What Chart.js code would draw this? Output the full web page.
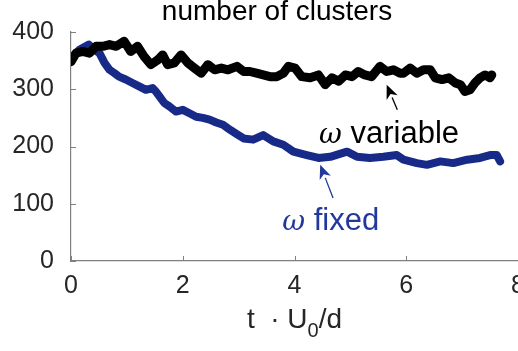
<!DOCTYPE html>
<html><head><meta charset="utf-8">
<script src="https://cdn.jsdelivr.net/npm/chart.js@4/dist/chart.umd.min.js"></script>
<style>html,body{margin:0;padding:0;background:#fff;overflow:hidden}</style>
</head><body>
<canvas id="c" width="518" height="351"></canvas>
<script>
// ---- data ----
const tBlack = [0.00,0.09,0.21,0.33,0.45,0.57,0.69,0.81,0.95,1.07,1.19,1.31,1.43,1.55,1.64,1.73,1.85,1.97,2.09,2.21,2.33,2.45,2.57,2.69,2.81,2.97,3.09,3.20,3.32,3.44,3.56,3.68,3.80,3.89,4.01,4.13,4.28,4.43,4.55,4.67,4.79,4.91,5.03,5.14,5.26,5.38,5.53,5.65,5.77,5.89,5.95,6.07,6.19,6.31,6.43,6.52,6.64,6.76,6.88,6.97,7.05,7.14,7.23,7.32,7.41,7.50,7.53];
const vBlack = [348,363,366,363,375,375,378,375,384,366,375,357,343,351,360,343,346,360,346,337,328,343,334,337,334,340,331,331,328,325,322,322,328,340,337,322,320,325,308,320,314,325,322,331,325,322,340,331,334,328,328,337,328,334,334,320,317,320,311,308,296,299,311,320,325,320,325];
const tBlue = [0.03,0.15,0.32,0.42,0.51,0.60,0.69,0.78,0.86,0.98,1.10,1.22,1.34,1.46,1.52,1.58,1.67,1.76,1.88,2.00,2.12,2.24,2.36,2.48,2.60,2.72,2.85,2.96,3.09,3.26,3.44,3.62,3.80,3.98,4.22,4.43,4.64,4.94,5.12,5.35,5.59,5.83,5.95,6.19,6.37,6.61,6.84,7.09,7.32,7.50,7.62,7.68];
const vBlue = [357,369,378,369,363,346,334,328,322,317,311,305,299,302,296,288,276,270,261,264,258,252,250,247,242,238,229,222,214,212,220,209,203,191,185,180,182,191,182,180,182,185,177,171,168,174,171,177,180,185,185,174];
const xTicks = [0,2,4,6,8];
const yTicks = [0,100,200,300,400];
const titleText = 'number of clusters';
const xLabelParts = ['t  \u00b7 U', '0', '/d'];
const labelVariable = 'variable';
const labelFixed = 'fixed';
// annotation anchors in data units: [textT, textV, tipT, tipV, tailT, tailV]
const annVariable = [4.44, 206, 5.65, 308, 5.84, 264];
const annFixed = [3.78, 54, 4.46, 168, 4.69, 110];

const BLUE = '#172a88';
const BLUE_TXT = '#23389c';
const AX = '#808080';
const TXT = '#262626';

function pts(ts, vs){ return ts.map((t,i)=>({x:t, y:vs[i]})); }

const deco = {
  id:'deco',
  afterDatasetsDraw(chart){
    const {ctx, chartArea:a, scales:{x, y}} = chart;
    ctx.save();
    // inward ticks
    ctx.strokeStyle = AX; ctx.lineWidth = 1;
    xTicks.forEach(v=>{ const px = Math.round(x.getPixelForValue(v))+0.5;
      ctx.beginPath(); ctx.moveTo(px, a.bottom); ctx.lineTo(px, a.bottom-5); ctx.stroke(); });
    yTicks.forEach(v=>{ const py = Math.round(y.getPixelForValue(v))+0.5;
      ctx.beginPath(); ctx.moveTo(a.left, py); ctx.lineTo(a.left+5, py); ctx.stroke(); });
    // title
    ctx.fillStyle = '#000';
    ctx.font = '28px "Liberation Sans", Arial, sans-serif';
    ctx.textAlign = 'center'; ctx.textBaseline = 'alphabetic';
    ctx.fillText(titleText, 277, 20);
    // x label with subscript
    ctx.fillStyle = TXT; ctx.textAlign = 'left';
    const f1 = '28px "Liberation Sans", Arial, sans-serif';
    const f2 = '20px "Liberation Sans", Arial, sans-serif';
    ctx.font = f1;
    const w0 = ctx.measureText(xLabelParts[0]).width;
    const w2 = ctx.measureText(xLabelParts[2]).width;
    ctx.font = f2;
    const w1 = ctx.measureText(xLabelParts[1]).width;
    let sx = (a.left + a.right)/2 - (w0+w1+w2)/2;
    const by = 328;
    ctx.font = f1; ctx.fillText(xLabelParts[0], sx, by); sx += w0;
    ctx.font = f2; ctx.fillText(xLabelParts[1], sx, by+9); sx += w1;
    ctx.font = f1; ctx.fillText(xLabelParts[2], sx, by);
    // annotations
    function arrow(tipX, tipY, tailX, tailY, col){
      ctx.strokeStyle = col; ctx.fillStyle = col; ctx.lineWidth = 1.3;
      const ang = Math.atan2(tipY-tailY, tipX-tailX);
      const L = 14, W = 6;
      const bx = tipX - L*Math.cos(ang), by2 = tipY - L*Math.sin(ang);
      ctx.beginPath(); ctx.moveTo(tailX, tailY); ctx.lineTo(bx, by2); ctx.stroke();
      ctx.beginPath(); ctx.moveTo(tipX, tipY);
      ctx.lineTo(bx + W*Math.sin(ang), by2 - W*Math.cos(ang));
      ctx.lineTo(tipX - (L-4)*Math.cos(ang), tipY - (L-4)*Math.sin(ang));
      ctx.lineTo(bx - W*Math.sin(ang), by2 + W*Math.cos(ang));
      ctx.closePath(); ctx.fill();
    }
    function label(ann, word, col){
      const tx = x.getPixelForValue(ann[0]), ty = y.getPixelForValue(ann[1]);
      ctx.fillStyle = col;
      ctx.font = 'italic 28px "DejaVu Serif", "Liberation Serif", serif';
      ctx.fillText('\u03c9', tx, ty);
      const ww = ctx.measureText('\u03c9').width;
      ctx.font = '31px "Liberation Sans", Arial, sans-serif';
      ctx.fillText(' ' + word, tx + ww, ty);
      arrow(x.getPixelForValue(ann[2]), y.getPixelForValue(ann[3]),
            x.getPixelForValue(ann[4]), y.getPixelForValue(ann[5]), col);
    }
    label(annVariable, labelVariable, '#000');
    label(annFixed, labelFixed, BLUE_TXT);
    ctx.restore();
  }
};

new Chart(document.getElementById('c'), {
  type: 'line',
  data: { datasets: [
    { label:'omega variable', data: pts(tBlack, vBlack), borderColor:'#000', backgroundColor:'#000',
      borderWidth:9, pointRadius:0, tension:0, borderJoinStyle:'round', borderCapStyle:'round', order:0 },
    { label:'omega fixed', data: pts(tBlue, vBlue), borderColor:BLUE, backgroundColor:BLUE,
      borderWidth:8, pointRadius:0, tension:0, borderJoinStyle:'round', borderCapStyle:'round', order:1 }
  ]},
  options: {
    responsive:false, animation:false,
    layout:{ padding:{ top:32, left:0, right:0, bottom:0 } },
    plugins:{ legend:{display:false}, tooltip:{enabled:false}, title:{display:false} },
    scales:{
      x:{ type:'linear', min:0, max:8,
        afterBuildTicks(s){ s.ticks = xTicks.map(v=>({value:v})); },
        afterFit(s){ s.height = 90; s.paddingLeft = 0; s.paddingRight = 0; },
        grid:{ display:false, drawTicks:false },
        border:{ display:true, color:AX, width:1.2 },
        ticks:{ color:TXT, padding:10, font:{ family:'"Liberation Sans", Arial, sans-serif', size:25 }, maxRotation:0, autoSkip:false }
      },
      y:{ min:0, max:400,
        afterBuildTicks(s){ s.ticks = yTicks.map(v=>({value:v})); },
        afterFit(s){ s.width = 71; },
        grid:{ display:false, drawTicks:false },
        border:{ display:true, color:AX, width:1.2 },
        ticks:{ color:TXT, padding:17, font:{ family:'"Liberation Sans", Arial, sans-serif', size:25 } }
      }
    }
  },
  plugins:[deco]
});
</script>
</body></html>
